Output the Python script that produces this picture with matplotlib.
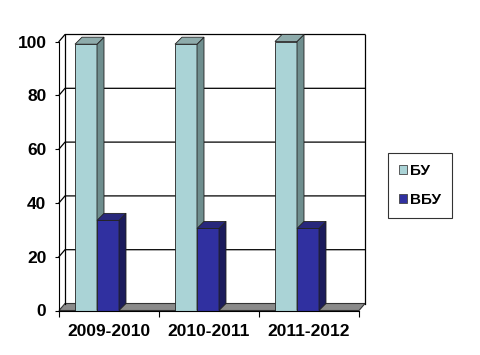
import numpy as np
import matplotlib
matplotlib.use("Agg")
import matplotlib.pyplot as plt
from matplotlib.patches import Patch

plt.rcParams['font.family'] = ['Liberation Sans', 'DejaVu Sans']

# годы
years = ['2009-2010', '2010-2011', '2011-2012']
# значения рядов
bu = np.array([99, 99, 100])
vbu = np.array([33.5, 30.5, 30.5])
series_names = ['БУ', 'ВБУ']

# цвета: лицевая, боковая, верхняя грани
bu_colors = ('#aad3d6', '#6f8e8e', '#8eabab')
vbu_colors = ('#3030a0', '#1b1b5c', '#28287c')

fig = plt.figure(figsize=(4.81, 3.55), dpi=100)
ax = fig.add_axes([59 / 481, 44.5 / 355, 300 / 481, 269 / 355])
ax.set_xlim(0, 3)
ax.set_ylim(0, 100)

# смещение задней стенки (псевдо-3D)
dx, dy = 0.06, 2.6
n = len(years)

# пол
ax.fill([0, n, n + dx, dx], [0, 0, dy, dy], facecolor='#8a8a8a',
        edgecolor='#333333', lw=0.8, clip_on=False, zorder=1)

# задняя стенка и сетка
for yv in range(20, 101, 20):
    ax.plot([0, dx, n + dx], [yv, yv + dy, yv + dy], color='black',
            lw=0.9, clip_on=False, zorder=1)
ax.plot([dx, dx], [dy, 100 + dy], color='black', lw=0.9, clip_on=False, zorder=1)
ax.plot([n + dx, n + dx], [dy, 100 + dy], color='black', lw=0.9, clip_on=False, zorder=1)

x = np.arange(n)
w = 0.22
bdx, bdy = 0.07, 2.6


def bars3d(xs, vals, colors, z):
    front, side, top = colors
    ax.bar(xs, vals, width=w, color=front, edgecolor='#222222', lw=0.6,
           zorder=z, clip_on=False)
    for xc, h in zip(xs, vals):
        x0, x1 = xc - w / 2, xc + w / 2
        ax.fill([x1, x1 + bdx, x1 + bdx, x1], [0, bdy, h + bdy, h],
                facecolor=side, edgecolor='#222222', lw=0.6, zorder=z, clip_on=False)
        ax.fill([x0, x1, x1 + bdx, x0 + bdx], [h, h, h + bdy, h + bdy],
                facecolor=top, edgecolor='#222222', lw=0.6, zorder=z, clip_on=False)


bars3d(x + 0.27, bu, bu_colors, 3)
bars3d(x + 0.49, vbu, vbu_colors, 4)

# оси
for s in ['top', 'right']:
    ax.spines[s].set_visible(False)
ax.spines['left'].set_zorder(5)
ax.spines['bottom'].set_zorder(5)
ax.set_yticks(range(0, 101, 20))
ax.set_xticks(range(0, n + 1))
ax.set_xticklabels([])
ax.set_xticks(x + 0.5, minor=True)
ax.set_xticklabels(years, minor=True)
ax.tick_params(axis='x', which='major', length=4, direction='out')
ax.tick_params(axis='x', which='minor', length=0, pad=10)
ax.tick_params(axis='y', length=3, pad=6)
for lbl in ax.get_xticklabels(minor=True) + ax.get_yticklabels():
    lbl.set_fontweight('bold')
    lbl.set_fontsize(12.5)

# легенда
handles = [Patch(facecolor=bu_colors[0], edgecolor='#444444', lw=0.6),
           Patch(facecolor=vbu_colors[0], edgecolor='#444444', lw=0.6)]
leg = fig.legend(handles, series_names, loc='center left',
                 bbox_to_anchor=(0.798, 0.478), frameon=True, fancybox=False,
                 edgecolor='black', handlelength=0.5, handleheight=0.5,
                 handletextpad=0.2, labelspacing=1.0, borderpad=0.7,
                 borderaxespad=0.3, prop={'weight': 'bold', 'size': 11})
leg.get_frame().set_linewidth(0.8)

fig.savefig('out.png', dpi=100)
